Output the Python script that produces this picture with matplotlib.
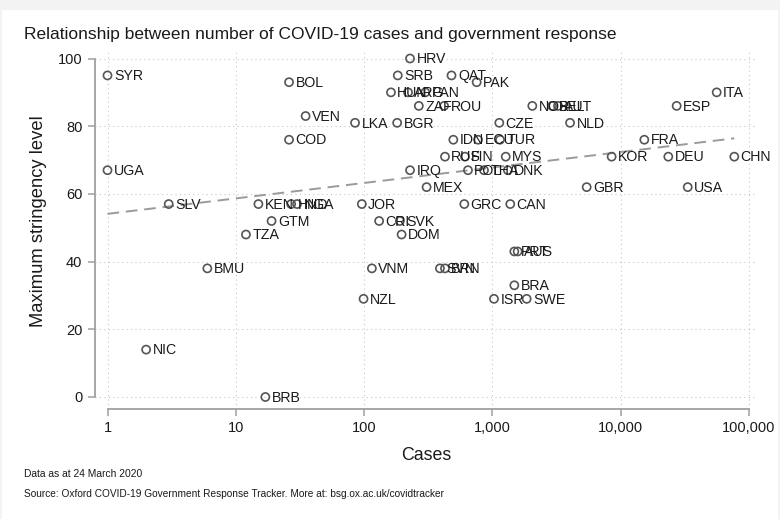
import numpy as np
import matplotlib
matplotlib.use("Agg")
import matplotlib.pyplot as plt
from matplotlib.patches import Rectangle

countries = ["SYR","UGA","SLV","NIC","BMU","BRB","TZA","KEN","HND","NGA","GTM","COD","BOL","VEN",
             "LKA","JOR","NZL","VNM","CRI","SVK","DOM","HUN","ARG","PAN","SRB","BGR","HRV","IRQ",
             "ZAF","ROU","MEX","RUS","FIN","QAT","IDN","ECU","TUR","PAK","GRC","MYS","CZE","CAN",
             "NOR","BEL","AUT","ISR","BRA","SWE","PRT","AUS","NLD","GBR","KOR","FRA","DEU","ESP",
             "USA","ITA","CHN","POL","THA","DNK","SVN","BRN"]
cases = [1,1,3,2,6,17,12,15,27,30,19,26,26,35,
         85,96,99,115,131,190,196,162,220,300,183,181,228,228,
         267,420,307,427,611,480,496,773,1146,754,604,1270,1132,1378,
         2047,2916,3246,1029,1482,1850,1482,1574,4030,5430,8500,15280,23500,27300,
         33300,56000,76800,645,860,1320,390,427]
stringency = [95,67,57,14,38,0,48,57,57,57,52,76,93,83,
              81,57,29,38,52,52,48,90,90,90,95,81,100,67,
              86,86,62,71,71,95,76,76,76,93,57,71,81,57,
              86,86,86,29,33,29,43,43,81,62,71,76,71,86,
              62,90,71,67,67,67,38,38]

title = "Relationship between number of COVID-19 cases and government response"
xlabel = "Cases"
ylabel = "Maximum stringency level"
xticks = [1, 10, 100, 1000, 10000, 100000]
xticklabels = ["1", "10", "100", "1,000", "10,000", "100,000"]
yticks = [0, 20, 40, 60, 80, 100]
note1 = "Data as at 24 March 2020"
note2 = "Source: Oxford COVID-19 Government Response Tracker. More at: bsg.ox.ac.uk/covidtracker"

plt.rcParams['font.family'] = ['Liberation Sans', 'DejaVu Sans']

W, H = 780, 519
fig = plt.figure(figsize=(W/100, H/100), dpi=100)
fig.patch.set_facecolor("#f3f3f3")
fig.add_artist(Rectangle((2/W, 0), (W-4)/W, (H-10)/H, transform=fig.transFigure,
                         facecolor="white", edgecolor="none", zorder=0))

ax = fig.add_axes([95/W, 1-409/H, (757-95)/W, (409-52)/H])
ax.set_facecolor("none")
ax.set_xscale("log")
ax.set_xlim(10**(-12.5/128.3), 10**((757-107.5)/128.3))
ax.set_ylim(-12/3.385, 100 + 6.5/3.385)

ax.set_xticks(xticks)
ax.set_xticklabels(xticklabels)
ax.xaxis.set_minor_locator(matplotlib.ticker.NullLocator())
ax.set_yticks(yticks)
ax.set_yticklabels([str(v) for v in yticks])
ax.grid(True, color="#c8c8c8", linestyle=(0, (1, 3)), linewidth=0.8)
ax.set_axisbelow(True)

for s in ["top", "right"]:
    ax.spines[s].set_visible(False)
for s in ["left", "bottom"]:
    ax.spines[s].set_color("#a0a0a0")
    ax.spines[s].set_linewidth(1.3)
ax.spines["left"].set_bounds(0, 100)
ax.spines["bottom"].set_bounds(1, 100000)
ax.tick_params(axis="both", colors="#a0a0a0", width=1.1, length=5, labelcolor="#1a1a1a",
               labelsize=10.5, pad=4)

xs = np.array(cases, dtype=float)
ys = np.array(stringency, dtype=float)
ax.scatter(xs, ys, s=34, facecolors="none", edgecolors="#555555", linewidths=1.2, zorder=3)
for c, x, y in zip(countries, xs, ys):
    ax.annotate(c, (x, y), xytext=(4.6, -0.5), textcoords="offset points",
                ha="left", va="center", fontsize=10.2, color="#1a1a1a", zorder=4)

b, a = np.polyfit(np.log10(xs), ys, 1)
lx = np.logspace(np.log10(xs.min()), np.log10(xs.max()), 50)
ax.plot(lx, a + b*np.log10(lx), color="#9a9a9a", linestyle=(0, (6, 3.5)), linewidth=1.4, zorder=2)

ax.set_xlabel(xlabel, fontsize=12.8, color="#1a1a1a", labelpad=8)
ax.set_ylabel(ylabel, fontsize=13.2, color="#1a1a1a")
# right edge of rotated y-label at pixel x=47, centred at y=221
ax.yaxis.set_label_coords((47-95)/(757-95), (409-221)/(409-52))

fig.text(24/W, 1-34/H, title, fontsize=12.5, color="#1a1a1a", ha="left", va="center")
fig.text(24/W, 1-474/H, note1, fontsize=7.4, color="#1a1a1a", ha="left", va="center")
fig.text(24/W, 1-494/H, note2, fontsize=7.25, color="#1a1a1a", ha="left", va="center")

fig.savefig("out.png", dpi=100, facecolor=fig.get_facecolor())
